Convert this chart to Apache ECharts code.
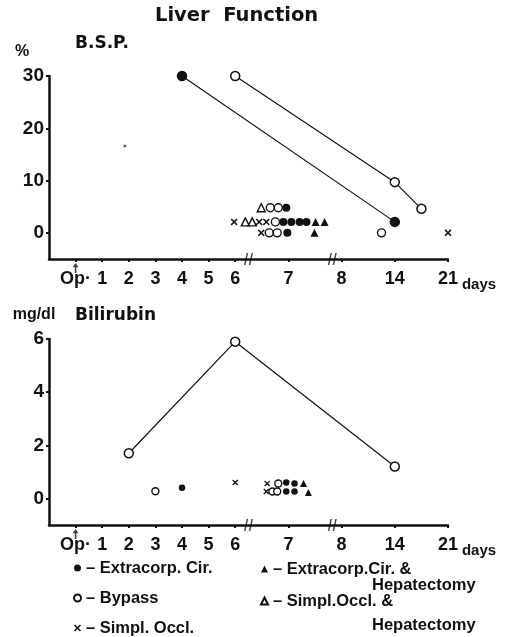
<!DOCTYPE html>
<html>
<head>
<meta charset="utf-8">
<script src="https://cdn.jsdelivr.net/npm/echarts@6/dist/echarts.min.js"></script>
<style>html,body{margin:0;padding:0;background:#fff}#c{width:506px;height:637px}</style>
</head>
<body>
<div id="c"></div>
<script>
// Broken time axis: each tick label sits at an axis position
const tickPos = [0, 1, 2, 3, 4, 5, 6, 8, 10, 12, 14];
const tickLabels = ['Op·', '1', '2', '3', '4', '5', '6', '7', '8', '14', '21'];
const breakPos = [6.5, 9.65];
const opPos = [0];

// B.S.P. (%) — [axis position, value]
const bspYTicks = [0, 10, 20, 30];
const bspExtracorpLine = [[4, 30], [12, 2.1]];
const bspBypassLine = [[6, 30], [12, 9.7], [13, 4.6]];
const bspExtracorp = [[7.92, 4.8], [7.81, 2.1], [8.11, 2.1], [8.42, 2.1], [8.68, 2.1], [7.96, 0]];
const bspBypass = [[7.32, 4.8], [7.62, 4.8], [7.51, 2.1], [7.28, 0], [7.58, 0], [11.5, 0]];
const bspSimplOccl = [[5.96, 2.1], [6.9, 2.1], [7.17, 2.1], [6.98, 0], [14, 0]];
const bspSimplOcclFaint = [[1.85, 16.6]];
const bspExtraHep = [[9.02, 2.1], [9.36, 2.1], [8.98, 0]];
const bspSimplHep = [[6.98, 4.8], [6.38, 2.1], [6.64, 2.1]];

// Bilirubin (mg/dl)
const biliYTicks = [0, 2, 4, 6];
const biliBypassLine = [[2, 1.7], [6, 5.9], [12, 1.2]];
const biliBypass = [[3, 0.27], [7.62, 0.56], [7.4, 0.26], [7.58, 0.26]];
const biliExtracorp = [[4, 0.4], [7.92, 0.6], [8.23, 0.56], [7.92, 0.26], [8.23, 0.26]];
const biliSimplOccl = [[6, 0.6], [7.2, 0.56], [7.17, 0.26]];
const biliExtraHep = [[8.57, 0.56], [8.75, 0.22]];

const legendNames = ['Extracorp. Cir.', 'Bypass', 'Simpl. Occl.', 'Extracorp. Cir. & Hepatectomy', 'Simpl. Occl. & Hepatectomy'];
const legendTexts = ['– Extracorp. Cir.', '– Bypass', '– Simpl. Occl.', '– Extracorp.Cir. &', '– Simpl.Occl. &'];

const INK = '#111';
const X_PATH = 'path://M0,1.5L1.5,0L5,3.5L8.5,0L10,1.5L6.5,5L10,8.5L8.5,10L5,6.5L1.5,10L0,8.5L3.5,5Z';
const BREAK_PATH = 'path://M0,10L3,0L4.6,0L1.6,10Z M5.4,10L8.4,0L10,0L7,10Z';
const ARROW_PATH = 'path://M5,0L10,6L6.3,6L6.3,14L3.7,14L3.7,6L0,6Z';
const lab = {fontFamily: 'Liberation Sans', fontWeight: 'bold', color: INK};
const big = {fontFamily: 'DejaVu Sans', fontWeight: 'bold', color: INK};

function makeX(gi) {
  return {
    type: 'value', gridIndex: gi, min: -1, max: 14,
    axisLine: {onZero: false, lineStyle: {color: INK, width: 2.5}},
    axisTick: {show: true, customValues: tickPos, length: 3, lineStyle: {color: INK, width: 2}},
    axisLabel: {customValues: tickPos, margin: 11, fontSize: 18, ...lab,
      formatter: v => { const i = tickPos.indexOf(v); return i >= 0 ? tickLabels[i] : ''; }},
    splitLine: {show: false},
    name: '\n\ndays', nameLocation: 'end', nameGap: 9,
    nameTextStyle: {...lab, fontSize: 15, lineHeight: 26}
  };
}
function makeY(gi, min, max, vals, name, gap, padR) {
  return {
    type: 'value', gridIndex: gi, min, max,
    axisLine: {onZero: false, lineStyle: {color: INK, width: 2.5}},
    axisTick: {show: true, customValues: vals, length: 3, lineStyle: {color: INK, width: 2}},
    axisLabel: {customValues: vals, margin: 5, fontSize: 19, ...lab},
    splitLine: {show: false},
    name, nameLocation: 'end', nameGap: gap,
    nameTextStyle: {...lab, fontSize: 16, align: 'center', padding: [0, padR, 0, 0]}
  };
}
function scat(gi, name, data, symbol, fill, size) {
  return {type: 'scatter', name, xAxisIndex: gi, yAxisIndex: gi, data, symbol, symbolSize: size,
    itemStyle: {color: fill, borderColor: INK, borderWidth: fill === '#fff' ? 1.4 : 0, opacity: 1},
    silent: true, clip: false, z: 3};
}
function trend(gi, name, data, fill) {
  return {type: 'line', name, xAxisIndex: gi, yAxisIndex: gi, data, symbol: 'circle', symbolSize: 9,
    showAllSymbol: true, clip: false, silent: true,
    itemStyle: {color: fill, borderColor: INK, borderWidth: 1.5},
    lineStyle: {color: INK, width: 1.2}, z: 4};
}
function deco(gi, ymin) {
  return [
    {type: 'scatter', xAxisIndex: gi, yAxisIndex: gi, data: breakPos.map(p => [p, ymin]),
      symbol: BREAK_PATH, symbolSize: [9, 12], itemStyle: {color: INK}, silent: true, clip: false, z: 5},
    {type: 'scatter', xAxisIndex: gi, yAxisIndex: gi, data: opPos.map(p => [p, ymin]),
      symbol: ARROW_PATH, symbolSize: [6, 10], symbolOffset: [0, 9], itemStyle: {color: INK}, silent: true, clip: false, z: 5}
  ];
}

const option = {
  backgroundColor: '#fff',
  animation: false,
  title: [
    {text: 'Liver  Function', left: 155, top: 6, padding: 0, textStyle: {...big, fontSize: 19.5}},
    {text: 'B.S.P.', left: 75, top: 35, padding: 0, textStyle: {...big, fontSize: 17}},
    {text: 'Bilirubin', left: 75, top: 307, padding: 0, textStyle: {...big, fontSize: 17}},
    {text: 'Hepatectomy', left: 372, top: 577, padding: 0, textStyle: {...lab, fontSize: 16.5}},
    {text: 'Hepatectomy', left: 372, top: 617, padding: 0, textStyle: {...lab, fontSize: 16.5}}
  ],
  grid: [
    {left: 49, width: 399, top: 76, height: 183},
    {left: 49, width: 399, top: 339, height: 186}
  ],
  xAxis: [makeX(0), makeX(1)],
  yAxis: [makeY(0, -5, 30, bspYTicks, '%', 16, 54), makeY(1, -1, 6, biliYTicks, 'mg/dl', 16, 30)],
  legend: [
    {data: legendNames.slice(0, 3), orient: 'vertical', left: 73, top: 559, itemWidth: 7, itemHeight: 7,
      itemGap: 12, selectedMode: false, padding: 0,
      formatter: n => legendTexts[legendNames.indexOf(n)], textStyle: {...lab, fontSize: 16.5, lineHeight: 18}},
    {data: legendNames.slice(3), orient: 'vertical', left: 260, top: 560, itemWidth: 7, itemHeight: 7,
      itemGap: 14, selectedMode: false, padding: 0,
      formatter: n => legendTexts[legendNames.indexOf(n)], textStyle: {...lab, fontSize: 16.5, lineHeight: 18}}
  ],
  series: [
    scat(0, legendNames[0], bspExtracorp, 'circle', INK, 8),
    scat(0, legendNames[1], bspBypass, 'circle', '#fff', 8),
    scat(0, legendNames[2], bspSimplOccl, X_PATH, INK, 7),
    scat(0, legendNames[3], bspExtraHep, 'triangle', INK, 8),
    scat(0, legendNames[4], bspSimplHep, 'triangle', '#fff', 8),
    scat(0, 'Simpl. Occl. faint', bspSimplOcclFaint, X_PATH, INK, 3),
    trend(0, 'Extracorp. Cir. trend', bspExtracorpLine, INK),
    trend(0, 'Bypass trend', bspBypassLine, '#fff'),
    ...deco(0, -5),
    scat(1, legendNames[0], biliExtracorp, 'circle', INK, 6.5),
    scat(1, legendNames[1], biliBypass, 'circle', '#fff', 7),
    scat(1, legendNames[2], biliSimplOccl, X_PATH, INK, 6),
    scat(1, legendNames[3], biliExtraHep, 'triangle', INK, 7),
    trend(1, 'Bypass bilirubin trend', biliBypassLine, '#fff'),
    ...deco(1, -1)
  ]
};
echarts.init(document.getElementById('c'), null, {renderer: 'canvas'}).setOption(option);
</script>
</body>
</html>
